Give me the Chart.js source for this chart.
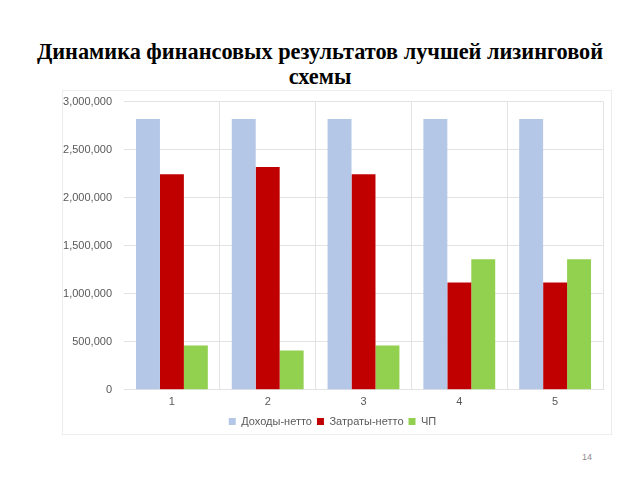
<!DOCTYPE html>
<html>
<head>
<meta charset="utf-8">
<script src="https://cdn.jsdelivr.net/npm/chart.js@4"></script>
<style>
  body { margin: 0; width: 640px; height: 480px; background: #fff; position: relative; overflow: hidden; }
  #title { position: absolute; left: 0; top: 39px; width: 640px; text-align: center;
           font-family: "Liberation Serif", serif; font-weight: bold;
           font-size: 22.3px; line-height: 25px; color: #000; }
  #frame { position: absolute; left: 62px; top: 90px; width: 550px; height: 345px;
           border: 1px solid #ececec; box-sizing: border-box; }
  #box { position: absolute; left: 62px; top: 83px; width: 550px; height: 354px; }
  #num { position: absolute; left: 582px; top: 452px; font-family: "Liberation Sans", sans-serif;
         font-size: 9px; color: #8c8c8c; }
</style>
</head>
<body>
<div id="title">Динамика финансовых результатов лучшей лизинговой<br>схемы</div>
<div id="frame"></div>
<div id="box"><canvas id="myChart"></canvas></div>
<div id="num">14</div>
<script>
// значения
const periods = ['1', '2', '3', '4', '5']
const dohody = [2820000, 2820000, 2820000, 2820000, 2820000]
const zatraty = [2245000, 2320000, 2245000, 1118000, 1118000]
const chp = [460000, 410000, 460000, 1360000, 1360000]
const yTicks = [0, 500000, 1000000, 1500000, 2000000, 2500000, 3000000]

const font = "'Liberation Sans', Arial, sans-serif"

new Chart('myChart', {
  type: 'bar',
  data: {
    labels: periods,
    datasets: [
      { label: 'Доходы-нетто', data: dohody, backgroundColor: '#b4c7e7' },
      { label: 'Затраты-нетто', data: zatraty, backgroundColor: '#c00000' },
      { label: 'ЧП', data: chp, backgroundColor: '#92d050' }
    ]
  },
  options: {
    responsive: true,
    maintainAspectRatio: false,
    animation: false,
    layout: { padding: { top: 5, right: 9, left: 0, bottom: 0 } },
    datasets: { bar: { categoryPercentage: 0.75, barPercentage: 1 } },
    plugins: {
      legend: {
        position: 'bottom',
        labels: { boxWidth: 7, boxHeight: 7, padding: 5, color: '#595959', font: { family: font, size: 11 } }
      },
      tooltip: { enabled: false }
    },
    scales: {
      x: {
        afterFit: (s) => { s.height -= 4 },
        grid: {
          color: (ctx) => (ctx.index === 0 || ctx.index === periods.length) ? 'rgba(0,0,0,0)' : '#e3e3e3',
          drawTicks: false
        },
        border: { display: false },
        ticks: { color: '#595959', font: { family: font, size: 11 }, padding: 6 }
      },
      y: {
        min: 0,
        max: 3000000,
        afterBuildTicks: (s) => { s.ticks = yTicks.map(v => ({ value: v })) },
        afterFit: (s) => { s.width = 62 },
        grid: { color: '#e3e3e3', drawTicks: false },
        border: { display: false },
        ticks: {
          color: '#595959', font: { family: font, size: 11 }, padding: 12,
          callback: (v) => v.toLocaleString('en-US')
        }
      }
    }
  }
})
</script>
</body>
</html>
